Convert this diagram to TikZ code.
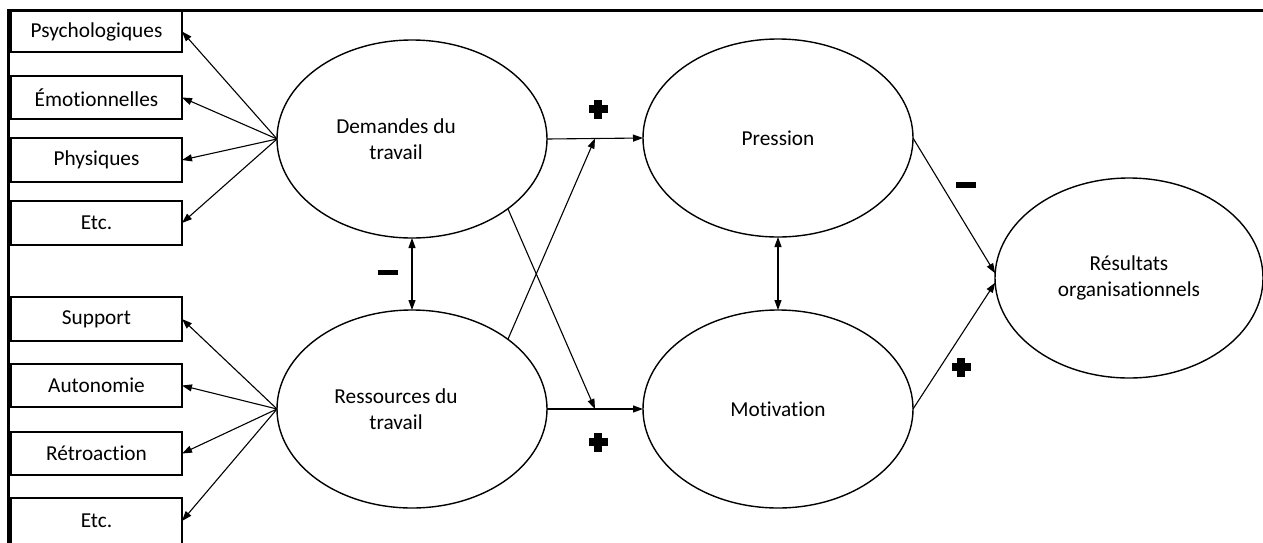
\documentclass[tikz,border=0pt]{standalone}
\usepackage{fontspec}
\setmainfont{Carlito}[Ligatures=NoCommon]
\usetikzlibrary{arrows.meta,shapes.geometric,calc}

\begin{document}
\begin{tikzpicture}[x=1pt,y=-1pt,
  every node/.style={font=\fontsize{21.3}{26}\selectfont},
  itembox/.style={draw, line width=1.3pt, rectangle, minimum width=171pt,
    inner sep=0pt, outer sep=0pt, anchor=north west},
  blob/.style={draw, ellipse, line width=1.4pt, minimum width=270pt,
    minimum height=198pt, inner sep=0pt, outer sep=0pt, align=center},
  conn/.style={-{Triangle[length=10pt,width=7pt]}, line width=1.1pt},
  both/.style={{Triangle[length=10pt,width=7pt]}-{Triangle[length=10pt,width=7pt]}, line width=1.1pt},
  plussign/.pic={
    \fill (-9.5,-4) rectangle (9.5,4);
    \fill (-4,-9.5) rectangle (4,9.5);
  },
  minussign/.pic={
    \fill (-10,-2.8) rectangle (10,2.8);
  }
]
\useasboundingbox (0,0) rectangle (1263,542);

% frame along the top and left edges
\draw[line width=3pt] (1263,10) -- (8.7,10) -- (8.7,546);

% indicator boxes
\node[itembox, minimum height=41pt] (p1) at (11,11)  {Psychologiques};
\node[itembox, minimum height=43pt] (p2) at (11,76)  {Émotionnelles};
\node[itembox, minimum height=44pt] (p3) at (11,138) {Physiques};
\node[itembox, minimum height=44pt] (p4) at (11,201) {Etc.};
\node[itembox, minimum height=44pt] (r1) at (11,297) {Support};
\node[itembox, minimum height=43pt] (r2) at (11,364) {Autonomie};
\node[itembox, minimum height=43pt] (r3) at (11,432) {Rétroaction};
\node[itembox, minimum height=46pt] (r4) at (11,498) {Etc.};

% latent constructs
\node[blob, label={[name=demtxt, xshift=-16pt, align=center]center:{Demandes du\\travail}}] (dem) at (412,139) {};
\node[blob, label={[name=restxt, xshift=-16pt, align=center]center:{Ressources du\\travail}}] (res) at (412,409) {};
\node[blob] (pre) at (778,138) {Pression};
\node[blob] (mot) at (778,409) {Motivation};
\node[blob, minimum width=268pt, minimum height=200pt] (out) at (1129,278) {Résultats\\organisationnels};

% measurement arrows
\foreach \b in {p1,p2,p3,p4} \draw[conn] (dem.west) -- (\b.east);
\foreach \b in {r1,r2,r3,r4} \draw[conn] (res.west) -- (\b.east);

% structural paths
\coordinate (mtop) at ($(dem.east)!0.5!(pre.west)$);
\coordinate (mbot) at ($(res.east)!0.5!(mot.west)$);
\draw[conn] (dem.east) -- (pre.west);
\draw[conn] (res.east) -- (mot.west);
\draw[conn] (dem.-36) -- (mbot);
\draw[conn] (res.36) -- (mtop);
\draw[both] (dem.south) -- (res.north);
\draw[both] (pre.south) -- (mot.north);
\draw[conn] (pre.east) -- (out.178);
\draw[conn] (mot.east) -- (out.182);

% signs of the effects
\pic at (598,109) {plussign};
\pic at (598,442) {plussign};
\pic at (961,367) {plussign};
\pic at (388,272.5) {minussign};
\pic at (966,185) {minussign};
\end{tikzpicture}
\end{document}
